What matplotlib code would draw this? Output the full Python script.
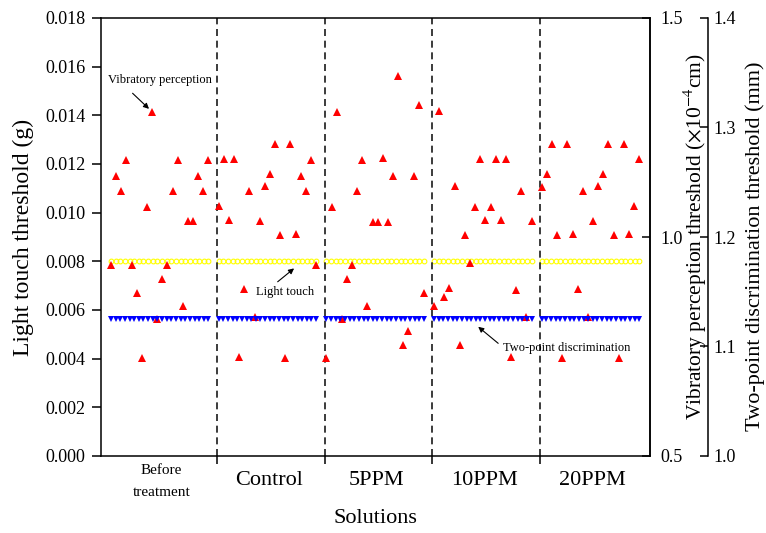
import numpy as np
import matplotlib.pyplot as plt

plt.rcParams['font.family'] = ['Liberation Serif', 'DejaVu Serif']
plt.rcParams['mathtext.fontset'] = 'stix'

# data
groups = ['Before\ntreatment', 'Control', '5PPM', '10PPM', '20PPM']

vib_before = [0.935, 1.139, 1.104, 1.175, 0.935, 0.873, 0.724, 1.068, 1.286, 0.812,
              0.903, 0.935, 1.104, 1.175, 0.842, 1.036, 1.036, 1.139, 1.104, 1.175]
vib_control = [1.071, 1.179, 1.039, 1.179, 0.726, 0.881, 1.105, 0.818, 1.036, 1.116,
               1.143, 1.213, 1.004, 0.724, 1.213, 1.006, 1.139, 1.104, 1.175, 0.935]
vib_5ppm = [0.724, 1.069, 1.286, 0.812, 0.903, 0.936, 1.104, 1.175, 0.842, 1.035,
            1.035, 1.180, 1.035, 1.140, 1.367, 0.753, 0.785, 1.140, 1.301, 0.873]
vib_10ppm = [0.842, 1.288, 0.862, 0.883, 1.116, 0.753, 1.004, 0.940, 1.069, 1.179,
             1.039, 1.069, 1.179, 1.039, 1.177, 0.726, 0.880, 1.106, 0.818, 1.036]
vib_20ppm = [1.115, 1.143, 1.213, 1.004, 0.724, 1.213, 1.006, 0.881, 1.106, 0.818,
             1.036, 1.116, 1.143, 1.213, 1.004, 0.724, 1.213, 1.006, 1.070, 1.178]
vib = [vib_before, vib_control, vib_5ppm, vib_10ppm, vib_20ppm]

light_touch = [0.008, 0.008, 0.008, 0.008, 0.008]   # g
two_point = [1.125, 1.125, 1.125, 1.125, 1.125]     # mm

n_sub = 20      # subjects per group
slot = 21       # x slots per group
n_line = 22     # markers in the flat series

fig = plt.figure(figsize=(7.66, 5.33), dpi=100)
ax = fig.add_axes([101 / 766, 1 - 456 / 533, 549 / 766, 438 / 533])
ax_v = ax.twinx()
ax_t = ax.twinx()

for g in range(len(groups)):
    xl = slot * g + np.linspace(0, n_sub - 1, n_line)
    ax.plot(xl, np.full(n_line, light_touch[g]), 'o', mfc='none', mec='#ffff00',
            ms=3.4, mew=0.8)
    ax_v.plot(slot * g + np.arange(n_sub), vib[g], '^', color='red', ms=5.5,
              markeredgewidth=0)
    ax_t.plot(xl, np.full(n_line, two_point[g]), 'v', color='blue', ms=5,
              markeredgewidth=0)

# group separators
bounds = [slot * j - 0.35 for j in range(1, len(groups))]
for b in bounds:
    ax.axvline(b, color='#1a1a1a', lw=1.2, dashes=(4.2, 2.8))

# axes
ax.set_xlim(-1.95, 105.1)
ax.set_ylim(0, 0.018)
ax.set_yticks(np.arange(0, 0.0181, 0.002))
ax.set_yticklabels(['%.3f' % v for v in np.arange(0, 0.0181, 0.002)])
ax_v.set_ylim(0.5, 1.5)
ax_v.set_yticks([0.5, 1.0, 1.5])
ax_t.set_ylim(1.0, 1.4)
ax_t.set_yticks([1.0, 1.1, 1.2, 1.3, 1.4])

ax.set_xticks(bounds, labels=[''] * len(bounds))
ax.tick_params(axis='x', direction='out', length=6, width=1.1)
ax.tick_params(axis='y', direction='out', length=6.5, width=1.1, labelsize=13, pad=4.5)
ax_v.tick_params(axis='y', direction='in', length=6, width=1.1, labelsize=13, pad=7.5)
ax_t.tick_params(axis='y', direction='in', length=6, width=1.1, labelsize=13, pad=3.6)

for a in (ax, ax_v, ax_t):
    for s in a.spines.values():
        s.set_linewidth(1.1)
ax_t.spines['right'].set_position(('axes', (708 - 101) / 549))
for s in ('left', 'top', 'bottom'):
    ax_t.spines[s].set_visible(False)
    ax_v.spines[s].set_visible(False)

# category names
for g, name in enumerate(groups):
    c = slot * g + 9.8
    if g == 0:
        ax.text(c, -0.058, name, transform=ax.get_xaxis_transform(), ha='center',
                va='center', fontsize=11, linespacing=1.9)
    else:
        ax.text(c, -0.056, name, transform=ax.get_xaxis_transform(), ha='center',
                va='center', fontsize=16)

ax.set_xlabel('Solutions', fontsize=16)
ax.xaxis.set_label_coords(0.5, -0.122)

ax.set_ylabel('Light touch threshold (g)', fontsize=17, va='center')
ax.yaxis.set_label_coords(-0.142, 0.5)
ax_v.set_ylabel(r'Vibratory perception threshold ($\times$10$^{-4}$cm)', fontsize=15.5)
ax_v.yaxis.label.set_va('center')
ax_v.yaxis.set_label_coords(1.083, 0.5)
ax_t.set_ylabel('Two-point discrimination threshold (mm)', fontsize=16)
ax_t.yaxis.label.set_va('center')
ax_t.yaxis.set_label_coords(1.192, 0.48)

# annotations
arrow = dict(arrowstyle='-|>', color='black', lw=0.8, mutation_scale=8,
             shrinkA=0, shrinkB=0)
ax_v.annotate('', xy=(8, vib_before[8]), xytext=(-14, 13.3), textcoords='offset points',
              arrowprops=dict(arrow, shrinkB=3))
ax_v.text(9.55, 1.358, 'Vibratory perception', ha='center', va='center', fontsize=9)

ax.annotate('', xy=(35.7, 0.00771), xytext=(32.5, 0.00716), arrowprops=arrow)
ax.text(33.9, 0.00675, 'Light touch', ha='center', va='center', fontsize=9)

ax.annotate('', xy=(71.6, 0.00531), xytext=(75.5, 0.00463), arrowprops=arrow)
ax.text(76.35, 0.00445, 'Two-point discrimination', ha='left', va='center', fontsize=9)

fig.savefig('out.png', dpi=100)
